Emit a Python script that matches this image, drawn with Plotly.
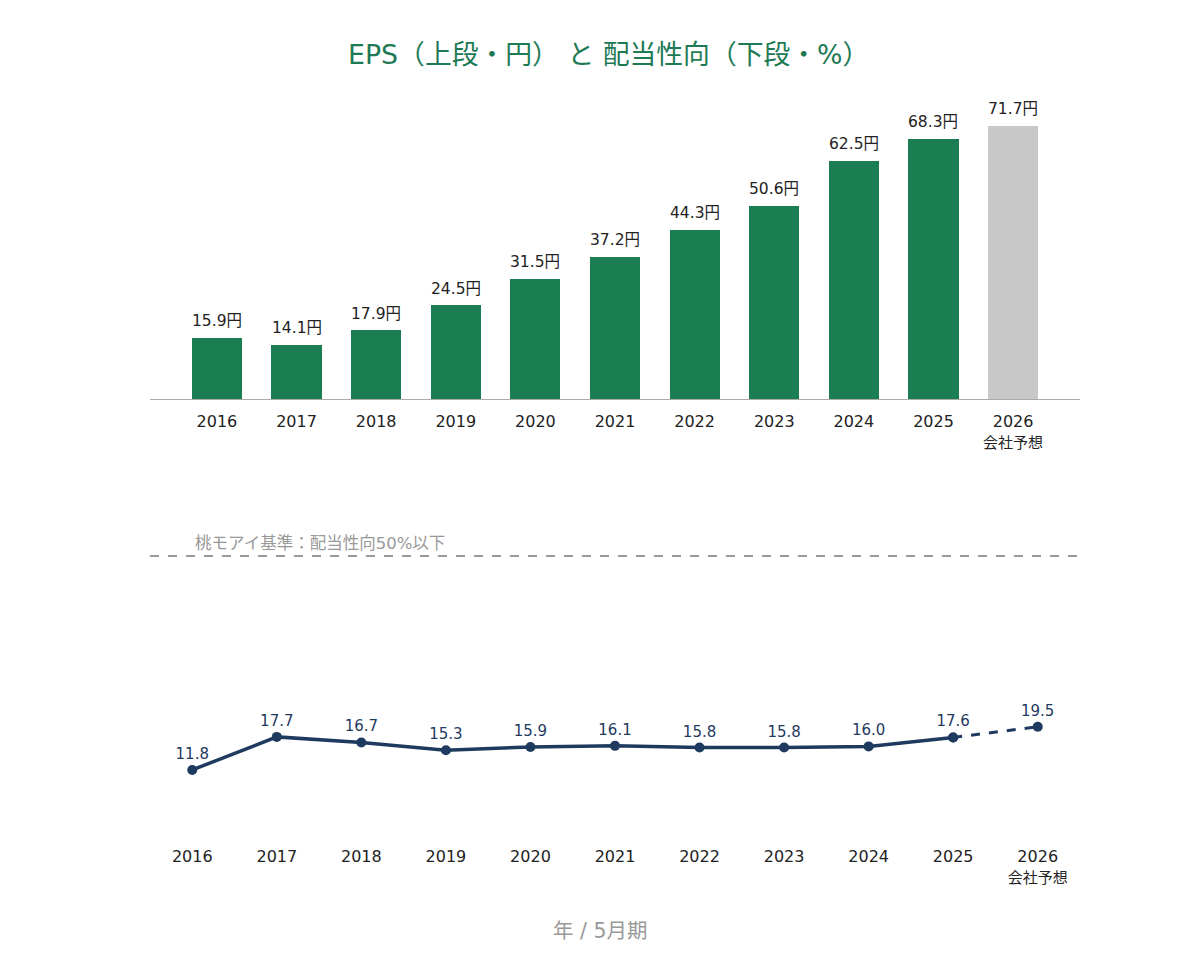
import plotly.graph_objects as go

years = ["2016", "2017", "2018", "2019", "2020", "2021", "2022", "2023", "2024", "2025", "2026"]
tick_labels = ["2016", "2017", "2018", "2019", "2020", "2021", "2022", "2023", "2024", "2025",
               "2026<br><span style='font-size:15px'>会社予想</span>"]
eps = [15.9, 14.1, 17.9, 24.5, 31.5, 37.2, 44.3, 50.6, 62.5, 68.3, 71.7]
payout = [11.8, 17.7, 16.7, 15.3, 15.9, 16.1, 15.8, 15.8, 16.0, 17.6, 19.5]
threshold = 50

FONT = "DejaVu Sans, Noto Sans CJK JP"
GREEN = "#1b7d52"
GRAY_BAR = "#c8c8c8"
NAVY = "#1f3a5f"

W, H = 1200, 960
def py(p):
    return 1 - p / H

bar_colors = [GREEN] * (len(years) - 1) + [GRAY_BAR]

fig = go.Figure()
fig.add_trace(go.Bar(
    x=years, y=eps, xaxis="x", yaxis="y",
    marker=dict(color=bar_colors, line=dict(width=0)),
    width=0.63, showlegend=False, hoverinfo="skip",
))

fig.add_trace(go.Scatter(
    x=years[:-1], y=payout[:-1], xaxis="x2", yaxis="y2",
    mode="lines+markers+text",
    line=dict(color=NAVY, width=3.5),
    marker=dict(color=NAVY, size=10),
    text=[f"{v:.1f}" for v in payout[:-1]], textposition="top center",
    textfont=dict(family=FONT, size=15, color=NAVY),
    cliponaxis=False, showlegend=False, hoverinfo="skip",
))
fig.add_trace(go.Scatter(
    x=years[-2:], y=payout[-2:], xaxis="x2", yaxis="y2",
    mode="lines+markers+text",
    line=dict(color=NAVY, width=3, dash="dash"),
    marker=dict(color=NAVY, size=10),
    text=["", f"{payout[-1]:.1f}"], textposition="top center",
    textfont=dict(family=FONT, size=15, color=NAVY),
    cliponaxis=False, showlegend=False, hoverinfo="skip",
))

px_per_unit_top = (399 - 126) / 71.7
top_range_max = 80
top_top_px = 399 - top_range_max * px_per_unit_top

bot_range_max = 55
bot_top_px = 836 - bot_range_max * 5.6

annotations = [
    dict(text="EPS（上段・円） と 配当性向（下段・%）", x=608.5 / W, y=py(55),
         xref="paper", yref="paper", showarrow=False, xanchor="center", yanchor="middle",
         font=dict(family=FONT, size=26.8, color="#1e7a55")),
    dict(text="桃モアイ基準：配当性向50%以下", x=193 / W, y=py(543),
         xref="paper", yref="paper", showarrow=False, xanchor="left", yanchor="middle",
         font=dict(family=FONT, size=16.5, color="#999999")),
    dict(text="年 / 5月期", x=0.5, y=py(931),
         xref="paper", yref="paper", showarrow=False, xanchor="center", yanchor="middle",
         font=dict(family=FONT, size=20.5, color="#999999")),
]
for i, v in enumerate(eps):
    annotations.append(dict(
        text=f"{v:.1f}円", x=i, y=v, xref="x", yref="y",
        showarrow=False, xanchor="center", yanchor="bottom", yshift=6,
        font=dict(family=FONT, size=15.5, color="#222222"),
    ))

fig.update_layout(
    width=W, height=H,
    margin=dict(l=0, r=0, t=0, b=0),
    paper_bgcolor="white", plot_bgcolor="white",
    font=dict(family=FONT, color="#222222"),
    bargap=0,
    xaxis=dict(
        domain=[150 / W, 1080 / W], anchor="y",
        type="category", range=[-0.84, 10.84],
        tickvals=years, ticktext=tick_labels,
        tickfont=dict(family=FONT, size=16, color="#222222"),
        showline=True, linecolor="#aaaaaa", linewidth=1,
        showgrid=False, ticks="", ticklabelstandoff=8,
    ),
    yaxis=dict(
        domain=[py(399), py(top_top_px)], anchor="x",
        range=[0, top_range_max], visible=False, showgrid=False, zeroline=False,
    ),
    xaxis2=dict(
        domain=[150 / W, 1080 / W], anchor="y2",
        type="category", range=[-0.5, 10.5],
        tickvals=years, ticktext=tick_labels,
        tickfont=dict(family=FONT, size=16, color="#222222"),
        showline=False, showgrid=False, ticks="", ticklabelstandoff=9,
    ),
    yaxis2=dict(
        domain=[py(836), py(bot_top_px)], anchor="x2",
        range=[0, bot_range_max], visible=False, showgrid=False, zeroline=False,
    ),
    shapes=[dict(
        type="line", xref="paper", yref="y2",
        x0=150 / W, x1=1080 / W, y0=threshold, y1=threshold,
        line=dict(color="#999999", width=2, dash="dash"),
    )],
    annotations=annotations,
)

fig.write_html("out.html")
